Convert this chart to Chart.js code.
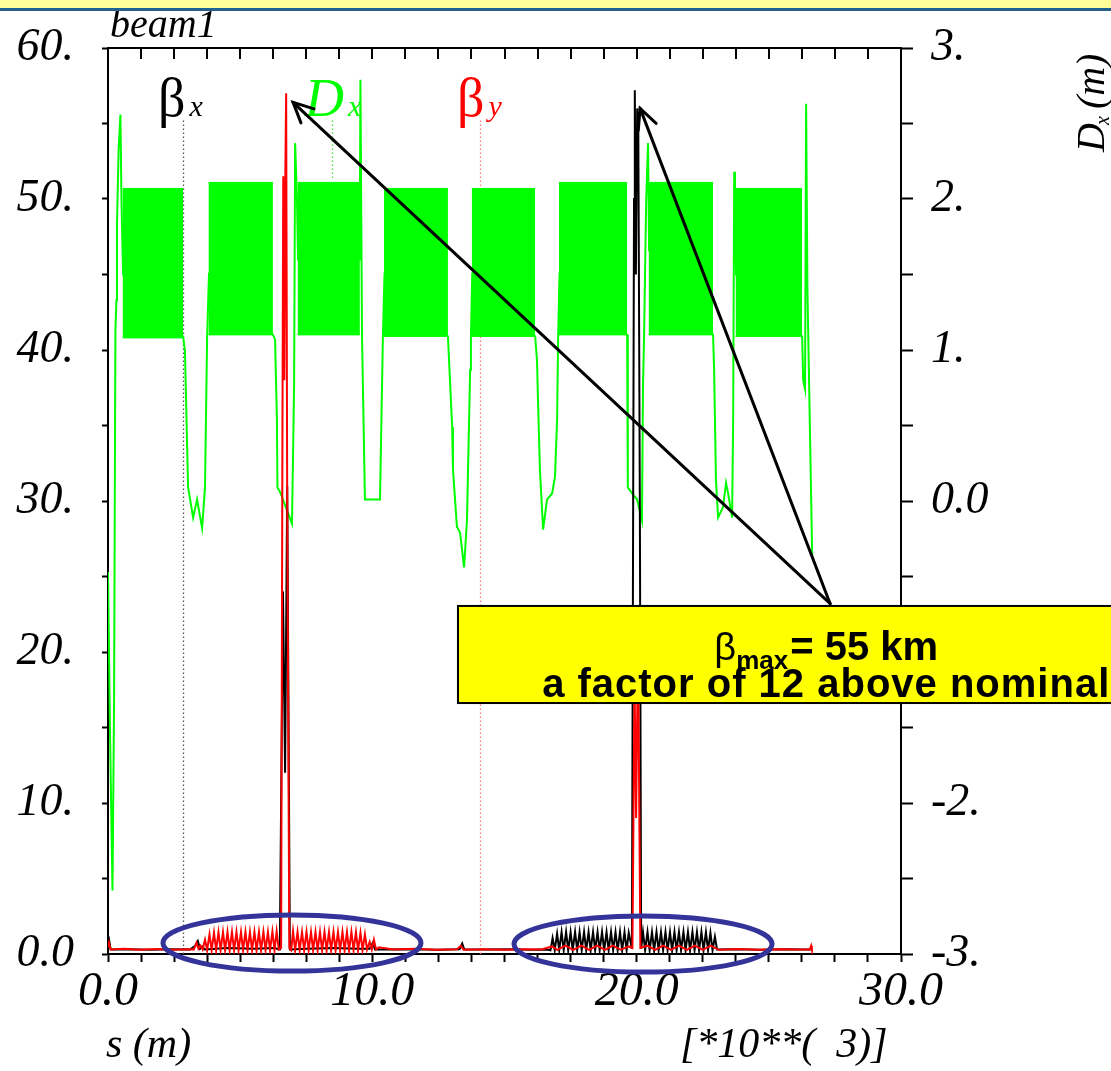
<!DOCTYPE html>
<html><head><meta charset="utf-8">
<script src="https://cdn.jsdelivr.net/npm/chart.js@4.4.1/dist/chart.umd.min.js"></script>
<style>html,body{margin:0;padding:0;background:#fff;overflow:hidden}canvas{display:block}</style>
</head><body>
<canvas id="c" width="1111" height="1071" style="width:1111px;height:1071px"></canvas>
<script>
// ---------------- DATA (s in km, beta in km, Dx in m) ----------------
const betaY_s = [0.00,0.04,0.10,0.60,1.20,1.80,2.40,3.00,3.25,3.35,3.42,3.50,3.58,
 3.67,3.75,3.84,3.92,4.01,4.09,4.18,4.26,4.35,4.43,4.52,4.60,4.69,4.77,4.86,4.94,5.03,5.11,5.20,5.28,5.37,5.45,5.54,5.62,5.71,5.79,5.88,5.96,6.05,6.13,6.22,6.30,6.38,6.46,
 6.55,6.60,6.63,6.67,6.71,6.74,6.78,6.86,
 6.93,7.00,7.08,7.17,7.25,7.34,7.42,7.51,7.59,7.68,7.76,7.85,7.93,8.02,8.10,8.19,8.27,8.36,8.44,8.53,8.61,8.70,8.78,8.87,8.95,9.04,9.12,9.21,9.29,9.38,9.46,9.55,9.63,9.72,9.80,9.90,9.98,10.06,10.14,10.25,
 10.8,11.6,12.4,13.2,13.35,13.45,14.2,15.0,15.8,16.4,
 16.8,17.0,17.3,17.6,17.9,18.2,18.5,18.8,19.1,19.4,19.7,
 19.84,19.92,19.98,20.05,20.14,
 20.4,20.7,21.0,21.3,21.6,21.9,22.2,22.5,22.8,23.1,
 23.8,24.6,25.4,26.2,26.55,26.60,26.63];
const betaY_v = [0.45,0.75,0.30,0.35,0.28,0.33,0.28,0.32,0.30,0.75,0.35,0.55,0.30,
 0.95,0.25,1.30,0.25,1.42,0.25,1.45,0.25,1.45,0.25,1.46,0.25,1.45,0.25,1.46,0.25,1.45,0.25,1.46,0.25,1.45,0.25,1.46,0.25,1.45,0.25,1.46,0.25,1.45,0.25,1.48,0.25,1.50,0.30,
 0.40,35.0,51.5,38.0,52.0,57.0,30.0,0.40,
 0.25,1.50,0.25,1.46,0.25,1.45,0.25,1.46,0.25,1.45,0.25,1.46,0.25,1.45,0.25,1.46,0.25,1.45,0.25,1.46,0.25,1.45,0.25,1.46,0.25,1.45,0.25,1.46,0.25,1.45,0.25,1.40,0.25,1.30,0.30,0.80,0.30,0.95,0.30,0.45,
 0.30,0.34,0.28,0.32,0.55,0.28,0.32,0.28,0.32,0.30,
 0.50,0.28,0.55,0.28,0.55,0.28,0.55,0.28,0.55,0.28,0.50,
 0.40,18.0,9.0,21.0,0.40,
 0.55,0.28,0.55,0.28,0.55,0.28,0.55,0.28,0.55,0.28,
 0.33,0.28,0.32,0.29,0.30,0.55,0.30];

const betaX_s = [0.00,0.05,0.10,0.80,1.60,2.40,3.10,3.30,3.40,3.48,3.56,3.65,4.50,5.50,6.30,
 6.50,6.62,6.70,6.78,6.88,
 7.50,8.50,9.50,9.90,10.02,10.10,10.60,11.50,12.50,13.30,13.40,13.48,14.30,15.20,16.00,16.60,
 16.74,16.82,16.90,16.99,17.07,17.16,17.24,17.33,17.41,17.50,17.58,17.67,17.75,17.84,17.92,18.01,18.09,18.18,18.26,18.35,18.43,18.52,18.60,18.69,18.77,18.86,18.94,19.03,19.11,19.20,19.28,19.37,19.45,19.54,19.62,19.70,
 19.82,19.90,19.93,19.97,20.02,20.06,20.12,20.17,
 20.24,20.32,20.41,20.49,20.58,20.66,20.75,20.83,20.92,21.00,21.09,21.17,21.26,21.34,21.43,21.51,21.60,21.68,21.77,21.85,21.94,22.02,22.11,22.19,22.28,22.36,22.45,22.53,22.62,22.70,22.79,22.87,22.96,23.04,
 23.80,24.70,25.60,26.30,26.62];
const betaX_v = [0.40,0.85,0.30,0.32,0.28,0.32,0.30,0.55,0.85,0.35,0.50,0.30,0.40,0.35,0.40,
 0.30,24.0,12.0,31.0,0.30,
 0.35,0.40,0.35,0.35,0.75,0.30,0.30,0.32,0.28,0.32,0.70,0.30,0.30,0.32,0.28,0.30,
 0.25,1.05,0.25,1.35,0.25,1.45,0.25,1.46,0.25,1.45,0.25,1.46,0.25,1.45,0.25,1.46,0.25,1.45,0.25,1.46,0.25,1.45,0.25,1.46,0.25,1.45,0.25,1.46,0.25,1.45,0.25,1.46,0.25,1.45,0.25,1.40,
 0.35,50.0,57.2,45.0,56.0,55.5,30.0,0.35,
 1.45,0.25,1.46,0.25,1.45,0.25,1.46,0.25,1.45,0.25,1.46,0.25,1.45,0.25,1.46,0.25,1.45,0.25,1.46,0.25,1.45,0.25,1.46,0.25,1.45,0.25,1.46,0.25,1.45,0.25,1.40,0.25,1.15,0.30,
 0.32,0.28,0.32,0.29,0.30];

// Dx between the arcs (line)
const dx_s = [0.00,0.08,0.17,0.23,0.28,0.32,0.34,0.40,0.47,0.51,0.57,
 2.84,2.91,3.03,3.22,3.37,3.56,3.67,3.75,3.82,
 6.24,6.32,6.39,6.41,6.51,6.62,6.81,6.96,7.04,7.08,7.15,7.19,
 9.52,9.55,9.61,9.72,10.29,10.40,10.46,
 12.86,13.02,13.05,13.20,13.32,13.47,13.58,13.70,13.73,13.78,
 16.16,16.23,16.27,16.34,16.46,16.61,16.80,16.91,16.99,17.03,17.08,
 19.64,19.66,19.67,19.83,20.02,20.20,20.24,20.28,20.36,20.43,20.47,
 22.89,22.93,23.00,23.08,23.27,23.38,23.46,23.61,23.65,23.69,23.72,23.76,
 26.26,26.30,26.37,26.41,26.46,26.64];
const dx_v = [-0.47,-1.58,-2.58,-1.32,1.13,1.33,1.83,2.32,2.56,1.99,1.50,
 1.09,1.00,0.09,-0.11,0.01,-0.18,0.09,1.09,1.50,
 1.10,1.07,0.54,0.09,0.06,0.01,-0.08,-0.15,0.76,2.37,1.99,1.60,
 1.60,2.79,1.09,0.01,0.01,1.09,1.50,
 1.09,0.49,0.21,-0.17,-0.21,-0.44,-0.13,0.87,1.09,1.50,
 1.09,0.93,0.65,0.21,-0.19,0.01,0.05,0.16,0.54,1.09,1.50,
 1.10,0.87,0.09,0.05,0.01,-0.13,0.76,1.09,1.99,2.37,1.66,
 1.10,0.87,0.14,-0.11,-0.04,0.12,0.05,-0.11,0.54,2.18,1.79,1.50,
 1.09,0.80,0.74,2.63,1.40,-0.36];

// Dx oscillation envelope inside the eight arcs
const arcStart = [0.55, 3.80, 7.17, 10.44, 13.76, 17.06, 20.45, 23.74];
const arcEnd   = [2.84, 6.24, 9.53, 12.86, 16.16, 19.64, 22.89, 26.26];
const arcTop   = [2.07, 2.11, 2.11, 2.07, 2.07, 2.11, 2.11, 2.07];
const arcBot   = [1.08, 1.10, 1.10, 1.09, 1.09, 1.10, 1.10, 1.09];

// axis ranges / ticks
const sRange = [0, 30], sStep = 1.25;
const betaRange = [0, 60], betaStep = 5;
const dxRange = [-3, 3], dxStep = 0.5;

// ---------------- annotations (data units) ----------------
const ANN = {
  dotted: [
    {s: 2.84, from: 55.2, to: 0, color: '#555555'},
    {s: 8.48, from: 55.2, to: 51.3, color: '#44dd44'},
    {s: 14.07, from: 55.2, to: 0, color: '#ff7a7a'}
  ],
  labels: [
    {s: 1.89, b: 55.5, main: 'β', sub: 'x', color: '#000000', italic: false},
    {s: 7.45, b: 55.5, main: 'D', sub: 'x', color: '#00ff00', italic: true},
    {s: 13.20, b: 55.5, main: 'β', sub: 'y', color: '#ff0000', italic: false}
  ],
  arrows: [
    {from: [27.32, 23.2], to: [7.0, 56.4]},
    {from: [27.32, 23.2], to: [20.13, 56.0]}
  ],
  ellipses: [
    {s: 6.96, b: 0.73, rs: 4.88, rb: 1.86},
    {s: 20.24, b: 0.66, rs: 4.88, rb: 1.86}
  ],
  box: {s0: 13.24, s1: 40, b0: 23.05, b1: 16.62, textS: 27.17, line1: 19.5, line2: 17.05,
        t1a: 'β', t1b: 'max', t1c: '= 55 km', t2: 'a factor of 12 above nominal'}
};

// ---------------- build chart ----------------
const pts = (s, v) => s.map((x, i) => ({x: x, y: v[i]}));
const datasets = [
  {label: 'βy', data: pts(betaY_s, betaY_v), borderColor: '#ff0000', borderWidth: 2, yAxisID: 'y', xAxisID: 'x', order: 0, fill: false},
  {label: 'βx', data: pts(betaX_s, betaX_v), borderColor: '#000000', borderWidth: 2, yAxisID: 'y', xAxisID: 'x', order: 1, fill: false},
  {label: 'Dx', data: pts(dx_s, dx_v), borderColor: '#00ff00', borderWidth: 2, yAxisID: 'y2', xAxisID: 'x', order: 2, fill: false}
];
for (let i = 0; i < arcStart.length; i++) {
  datasets.push({label: 'arcTop' + i, data: [{x: arcStart[i], y: arcTop[i]}, {x: arcEnd[i], y: arcTop[i]}],
    borderColor: '#00ff00', borderWidth: 1, backgroundColor: '#00ff00', fill: '+1', yAxisID: 'y2', xAxisID: 'x', order: 3});
  datasets.push({label: 'arcBot' + i, data: [{x: arcStart[i], y: arcBot[i]}, {x: arcEnd[i], y: arcBot[i]}],
    borderColor: '#00ff00', borderWidth: 1, fill: false, yAxisID: 'y2', xAxisID: 'x', order: 3});
}

const SERIF = '"Liberation Serif", "Times New Roman", serif';
const SANS = '"Liberation Sans", Arial, sans-serif';
const tickFont = {family: SERIF, style: 'italic', size: 46};

const overlay = {
  id: 'overlay',
  beforeDraw(chart) {
    const c = chart.ctx; c.save(); c.fillStyle = '#ffffff'; c.fillRect(0, 0, chart.width, chart.height); c.restore();
  },
  beforeDatasetsDraw(chart) {
    const c = chart.ctx, X = v => chart.scales.x.getPixelForValue(v), Y = v => chart.scales.y.getPixelForValue(v);
    c.save();
    for (const d of ANN.dotted) {
      const px = Math.round(X(d.s)) + 0.5;
      c.strokeStyle = d.color; c.lineWidth = 1.3; c.setLineDash([1.5, 2.5]);
      c.beginPath(); c.moveTo(px, Y(d.from)); c.lineTo(px, Y(d.to)); c.stroke();
    }
    c.setLineDash([]);
    c.textAlign = 'left'; c.textBaseline = 'alphabetic';
    for (const l of ANN.labels) {
      const x = X(l.s), y = Y(l.b);
      c.fillStyle = l.color;
      c.font = (l.italic ? 'italic ' : '') + '54px ' + SERIF;
      c.fillText(l.main, x, y);
      const w = c.measureText(l.main).width;
      c.font = 'italic 30px ' + SERIF;
      c.fillText(l.sub, x + w + 4, y);
    }
    c.restore();
  },
  afterDatasetsDraw(chart) {
    const c = chart.ctx, xs = chart.scales.x, X = v => xs.getPixelForValue(v), Y = v => chart.scales.y.getPixelForValue(v);
    const area = chart.chartArea;
    c.save();
    // inward ticks on the top frame
    c.strokeStyle = '#000'; c.lineWidth = 2;
    for (const t of xs.ticks) {
      const px = Math.round(X(t.value));
      c.beginPath(); c.moveTo(px, area.top); c.lineTo(px, area.top + 11); c.stroke();
    }
    // ellipses
    c.strokeStyle = '#333399'; c.lineWidth = 5;
    for (const e of ANN.ellipses) {
      const cx = X(e.s), cy = Y(e.b), rx = Math.abs(X(e.s + e.rs) - cx), ry = Math.abs(Y(e.b + e.rb) - cy);
      c.beginPath(); c.ellipse(cx, cy, rx, ry, 0, 0, Math.PI * 2); c.stroke();
    }
    // arrows
    c.strokeStyle = '#000'; c.lineWidth = 3; c.lineCap = 'round';
    for (const a of ANN.arrows) {
      const x0 = X(a.from[0]), y0 = Y(a.from[1]), x1 = X(a.to[0]), y1 = Y(a.to[1]);
      const ang = Math.atan2(y1 - y0, x1 - x0), L = 22, h = 0.45;
      c.beginPath(); c.moveTo(x0, y0); c.lineTo(x1, y1); c.stroke();
      c.beginPath();
      c.moveTo(x1 - L * Math.cos(ang - h), y1 - L * Math.sin(ang - h));
      c.lineTo(x1, y1);
      c.lineTo(x1 - L * Math.cos(ang + h), y1 - L * Math.sin(ang + h));
      c.stroke();
    }
    c.restore();
  },
  afterDraw(chart) {
    const c = chart.ctx, X = v => chart.scales.x.getPixelForValue(v), Y = v => chart.scales.y.getPixelForValue(v);
    const b = ANN.box;
    c.save();
    // yellow text box
    const bx0 = X(b.s0), bx1 = X(b.s1), by0 = Y(b.b0), by1 = Y(b.b1);
    c.fillStyle = '#ffff00'; c.fillRect(bx0, by0, bx1 - bx0, by1 - by0);
    c.strokeStyle = '#000'; c.lineWidth = 2; c.strokeRect(bx0, by0, bx1 - bx0, by1 - by0);
    c.fillStyle = '#000'; c.textBaseline = 'alphabetic'; c.textAlign = 'left';
    const f1 = '38px ' + SANS, f2 = 'bold 26px ' + SANS, f3 = 'bold 40px ' + SANS;
    c.font = f1; const w1 = c.measureText(b.t1a).width;
    c.font = f2; const w2 = c.measureText(b.t1b).width;
    c.font = f3; const w3 = c.measureText(b.t1c).width;
    let tx = X(b.textS) - (w1 + w2 + w3 + 2) / 2; const ty1 = Y(b.line1);
    c.font = f1; c.fillText(b.t1a, tx, ty1); tx += w1;
    c.font = f2; c.fillText(b.t1b, tx, ty1 + 9); tx += w2 + 2;
    c.font = f3; c.fillText(b.t1c, tx, ty1);
    c.font = f3; c.textAlign = 'center';
    try { c.letterSpacing = '1px'; } catch (e) {}
    c.fillText(b.t2, X(b.textS), Y(b.line2));
    try { c.letterSpacing = '0px'; } catch (e) {}
    // axis titles
    c.textAlign = 'left';
    c.font = 'italic 42px ' + SERIF;
    c.fillText('s (m)', 106, 1057);
    c.fillText('[*10**(  3)]', 680, 1057);
    c.font = 'italic 40px ' + SERIF;
    c.fillText('beam1', 110, 37);
    // right axis title, rotated
    c.save();
    c.translate(1104, 152); c.rotate(-Math.PI / 2);
    c.font = 'italic 40px ' + SERIF; c.fillText('D', 0, 0);
    const wd = c.measureText('D').width;
    c.font = 'italic 20px ' + SERIF; c.fillText('x', wd - 2, 5);
    c.font = 'italic 40px ' + SERIF; c.fillText('(m)', wd + 14, 0);
    c.restore();
    // top banner
    c.fillStyle = '#ffff99'; c.fillRect(0, 0, chart.width, 8);
    c.fillStyle = '#22618f'; c.fillRect(0, 8, chart.width, 3);
    c.restore();
  }
};

new Chart(document.getElementById('c'), {
  type: 'line',
  data: {datasets: datasets},
  options: {
    responsive: false, animation: false, devicePixelRatio: 1,
    layout: {padding: 0},
    elements: {point: {radius: 0, hoverRadius: 0}, line: {tension: 0}},
    plugins: {legend: {display: false}, tooltip: {enabled: false}},
    events: [],
    scales: {
      x: {
        type: 'linear', position: 'bottom', min: sRange[0], max: sRange[1],
        ticks: {stepSize: sStep, autoSkip: false, maxRotation: 0, minRotation: 0, color: '#000', padding: 2,
                font: {family: SERIF, style: 'italic', size: 48},
                callback: v => (Math.abs(v % 10) < 1e-9 ? v.toFixed(1) : '')},
        grid: {drawOnChartArea: false, drawTicks: true, tickLength: 8, tickWidth: 2, tickColor: '#000'},
        border: {display: true, color: '#000', width: 2},
        afterFit: s => { s.height = 117; s.paddingLeft = 0; s.paddingRight = 0; }
      },
      xt: {
        type: 'linear', position: 'top', min: sRange[0], max: sRange[1],
        ticks: {display: false},
        grid: {drawOnChartArea: false, drawTicks: false},
        border: {display: true, color: '#000', width: 2},
        afterFit: s => { s.height = 48; s.paddingLeft = 0; s.paddingRight = 0; }
      },
      y: {
        type: 'linear', position: 'left', min: betaRange[0], max: betaRange[1],
        ticks: {stepSize: betaStep, autoSkip: false, color: '#000', padding: 28, font: tickFont,
                callback: v => (v % 10 === 0 ? (v === 0 ? '0.0' : v + '.') : '')},
        grid: {drawOnChartArea: false, drawTicks: true, tickLength: 6, tickWidth: 2, tickColor: '#000'},
        border: {display: true, color: '#000', width: 2},
        afterFit: s => { s.width = 108; s.paddingTop = 0; s.paddingBottom = 0; }
      },
      y2: {
        type: 'linear', position: 'right', min: dxRange[0], max: dxRange[1],
        ticks: {stepSize: dxStep, autoSkip: false, color: '#000', padding: 18, font: tickFont,
                callback: v => (Number.isInteger(v) ? (v === 0 ? '0.0' : v + '.') : '')},
        grid: {drawOnChartArea: false, drawTicks: true, tickLength: 12, tickWidth: 2, tickColor: '#000'},
        border: {display: true, color: '#000', width: 2},
        afterFit: s => { s.width = 210; s.paddingTop = 0; s.paddingBottom = 0; }
      }
    }
  },
  plugins: [overlay]
});
</script>
</body></html>
